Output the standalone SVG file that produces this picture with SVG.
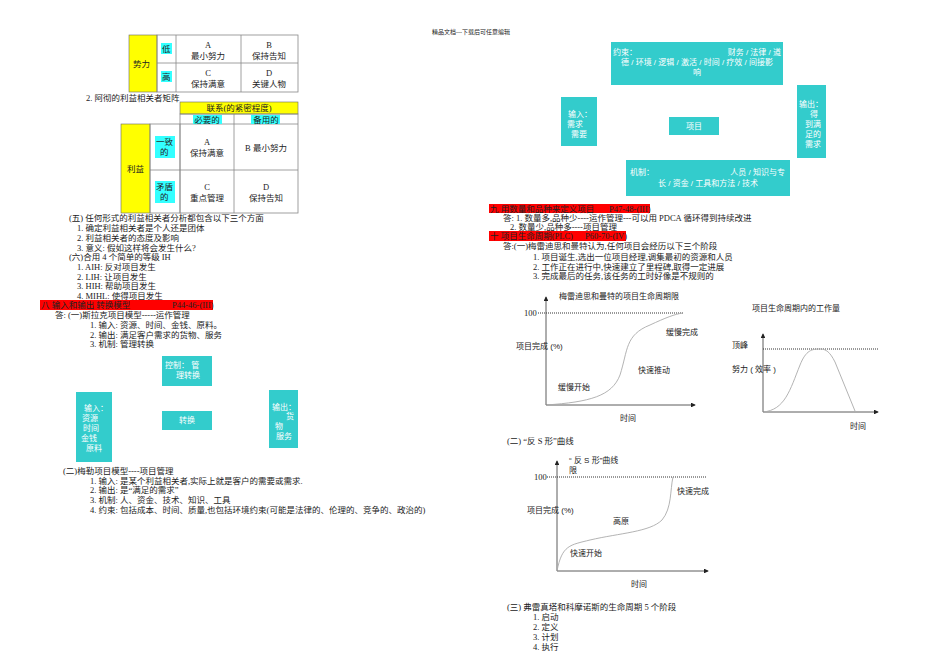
<svg xmlns="http://www.w3.org/2000/svg" width="950" height="672" viewBox="0 0 950 672">
<style>
.t{font-family:"Liberation Serif","Noto Sans CJK SC",serif;font-size:8.5px;fill:#222}
.s{font-family:"Liberation Sans","Noto Sans CJK SC",sans-serif;font-size:8px;fill:#222}
.w{font-family:"Liberation Sans","Noto Sans CJK SC",sans-serif;font-size:8px;fill:#fff}
.box{fill:#33cccc}
.g{fill:none;stroke:#888;stroke-width:0.8}
.y{fill:#ffff00;stroke:#666;stroke-width:0.6}
.c{fill:#33ffff}
.red{fill:#ff0000}
.ax{stroke:#333;stroke-width:0.8;fill:none}
.dot{stroke:#333;stroke-width:1;stroke-dasharray:1 1;fill:none}
.cv{stroke:#aaa;stroke-width:0.9;fill:none}
</style>
<defs><marker id="ar" markerWidth="6" markerHeight="6" refX="5" refY="3" orient="auto"><path d="M0,0L6,3L0,6z" fill="#222"/></marker></defs>
<rect width="950" height="672" fill="#fff"/>
<text class="t" x="432" y="34" style="font-size:6px">精品文档---下载后可任意编辑</text>

<g id="table1">
<rect class="y" x="129" y="35" width="28" height="57"/>
<text class="t" x="133" y="67">势力</text>
<rect class="g" x="157" y="35" width="141" height="57"/>
<line class="g" x1="176" y1="35" x2="176" y2="92"/><line class="g" x1="241" y1="35" x2="241" y2="92"/><line class="g" x1="157" y1="63" x2="298" y2="63"/>
<rect class="c" x="161" y="43" width="11" height="11"/><text class="t" x="162" y="52">低</text>
<rect class="c" x="161" y="71" width="11" height="11"/><text class="t" x="162" y="80">高</text>
<text class="t" x="208" y="48" text-anchor="middle">A</text><text class="t" x="208" y="59" text-anchor="middle">最小努力</text>
<text class="t" x="269" y="48" text-anchor="middle">B</text><text class="t" x="269" y="59" text-anchor="middle">保持告知</text>
<text class="t" x="208" y="76" text-anchor="middle">C</text><text class="t" x="208" y="87" text-anchor="middle">保持满意</text>
<text class="t" x="269" y="76" text-anchor="middle">D</text><text class="t" x="269" y="87" text-anchor="middle">关键人物</text>
</g>
<text class="t" x="86" y="101">2.  阿彻的利益相关者矩阵</text>
<g id="table2">
<rect class="y" x="180" y="102" width="118" height="12"/>
<text class="t" x="239" y="111" text-anchor="middle">联系(的紧密程度)</text>
<rect class="g" x="180" y="114" width="118" height="99"/>
<line class="g" x1="234" y1="114" x2="234" y2="213"/><line class="g" x1="180" y1="124" x2="298" y2="124"/><line class="g" x1="150" y1="170" x2="298" y2="170"/>
<rect class="c" x="193" y="115" width="29" height="9"/><text class="t" x="207" y="123" text-anchor="middle">必要的</text>
<rect class="c" x="251" y="115" width="29" height="9"/><text class="t" x="266" y="123" text-anchor="middle">备用的</text>
<rect class="y" x="121" y="124" width="29" height="89"/><text class="t" x="127" y="172">利益</text>
<rect class="g" x="150" y="124" width="30" height="89"/>
<rect class="c" x="155" y="136" width="20" height="22"/><text class="t" x="156" y="145">一致</text><text class="t" x="160" y="155">的</text>
<rect class="c" x="155" y="181" width="20" height="22"/><text class="t" x="156" y="190">矛盾</text><text class="t" x="160" y="200">的</text>
<text class="t" x="207" y="145" text-anchor="middle">A</text><text class="t" x="207" y="156" text-anchor="middle">保持满意</text>
<text class="t" x="266" y="151" text-anchor="middle">B   最小努力</text>
<text class="t" x="207" y="190" text-anchor="middle">C</text><text class="t" x="207" y="201" text-anchor="middle">重点管理</text>
<text class="t" x="266" y="190" text-anchor="middle">D</text><text class="t" x="266" y="201" text-anchor="middle">保持告知</text>
</g>

<g id="text-left">
<text class="t" x="69" y="221">(五) 任何形式的利益相关者分析都包含以下三个方面</text>
<text class="t" x="77" y="231">1. 确定利益相关者是个人还是团体</text>
<text class="t" x="77" y="241">2. 利益相关者的态度及影响</text>
<text class="t" x="77" y="251">3. 意义: 假如这样将会发生什么?</text>
<text class="t" x="69" y="260">(六)合用 4 个简单的等级 IH</text>
<text class="t" x="77" y="270">1. AIH: 反对项目发生</text>
<text class="t" x="77" y="280">2. LIH: 让项目发生</text>
<text class="t" x="77" y="289">3. HIH: 帮助项目发生</text>
<text class="t" x="77" y="299">4. MIHL: 使得项目发生</text>
<rect class="red" x="40" y="300" width="173" height="10"/>
<text class="t" x="41" y="308">八 输入和输出 转换模型</text><text class="t" x="172" y="308">P44-46-(III)</text>
<text class="t" x="55" y="318">答: (一)斯拉克项目模型-----运作管理</text>
<text class="t" x="90" y="328">1. 输入: 资源、时间、金钱、原料。</text>
<text class="t" x="90" y="338">2. 输出: 满足客户需求的货物、服务</text>
<text class="t" x="90" y="347">3. 机制: 管理转换</text>
</g>
<g id="slack-control"><rect class="box" x="162" y="356" width="50" height="30"/><text class="w" x="165" y="368">控制：    管</text><text class="w" x="176" y="378">理转换</text></g>
<g id="slack-transform"><rect class="box" x="162" y="411" width="50" height="19"/><text class="w" x="187" y="423" text-anchor="middle">转换</text></g>
<g id="slack-input"><rect class="box" x="76" y="392" width="36" height="70"/><text class="w" x="84" y="411">输入：</text><text class="w" x="82" y="421">资源</text><text class="w" x="83" y="431">时间</text><text class="w" x="81" y="441">金钱</text><text class="w" x="86" y="451">原料</text></g>
<g id="slack-output"><rect class="box" x="269" y="390" width="29" height="58"/><text class="w" x="272" y="410">输出：</text><text class="w" x="286" y="419">货</text><text class="w" x="275" y="429">物</text><text class="w" x="276" y="439">服务</text></g>
<g id="text-left2">
<text class="t" x="63" y="474">(二)梅勒项目模型----项目管理</text>
<text class="t" x="90" y="484">1. 输入: 是某个利益相关者,实际上就是客户的需要或需求.</text>
<text class="t" x="90" y="493">2. 输出: 是“满足的需求”</text>
<text class="t" x="90" y="503">3. 机制: 人、资金、技术、知识、工具</text>
<text class="t" x="90" y="513">4. 约束: 包括成本、时间、质量,也包括环境约束(可能是法律的、伦理的、竞争的、政治的)</text>
</g>

<g id="maylor-constraint"><rect class="box" x="611" y="42" width="172" height="43"/><text class="w" x="613" y="55">约束：</text><text class="w" x="781" y="55" text-anchor="end">财务 / 法律 / 道</text><text class="w" x="697" y="65" text-anchor="middle">德 / 环境 / 逻辑 / 激活 / 时间 / 疗效 / 间接影</text><text class="w" x="697" y="75" text-anchor="middle">响</text></g>
<g id="maylor-input"><rect class="box" x="561" y="97" width="36" height="49"/><text class="w" x="568" y="117">输入：</text><text class="w" x="567" y="127">需求</text><text class="w" x="571" y="137">需要</text></g>
<g id="maylor-project"><rect class="box" x="669" y="117" width="50" height="18"/><text class="w" x="694" y="129" text-anchor="middle">项目</text></g>
<g id="maylor-output"><rect class="box" x="797" y="85" width="29" height="73"/><text class="w" x="799" y="107">输出：</text><text class="w" x="810" y="117">得</text><text class="w" x="805" y="127">到满</text><text class="w" x="805" y="137">足的</text><text class="w" x="805" y="147">需求</text></g>
<g id="maylor-mechanism"><rect class="box" x="626" y="160" width="164" height="36"/><text class="w" x="630" y="175">机制：</text><text class="w" x="785" y="175" text-anchor="end">人员 / 知识与专</text><text class="w" x="708" y="186" text-anchor="middle">长 / 资金 / 工具和方法 / 技术</text></g>

<g id="text-right">
<rect class="red" x="489" y="204" width="161" height="9"/>
<text class="t" x="490" y="212">九 用数量和品种来定义项目</text><text class="t" x="609" y="212">P47-48-(III)</text>
<text class="t" x="503" y="221">答: 1. 数量多,品种少----运作管理---可以用 PDCA 循环得到持续改进</text>
<text class="t" x="510" y="230">2. 数量少,品种多----项目管理</text>
<rect class="red" x="489" y="231" width="137" height="10"/>
<text class="t" x="490" y="239">十 项目生命周期(PLC)</text><text class="t" x="585" y="239">P60-70-(IV)</text>
<text class="t" x="503" y="249">答:(一)梅雷迪思和曼特认为,任何项目会经历以下三个阶段</text>
<text class="t" x="533" y="260">1.    项目诞生,选出一位项目经理,调集最初的资源和人员</text>
<text class="t" x="533" y="270">2.    工作正在进行中,快速建立了里程碑,取得一定进展</text>
<text class="t" x="533" y="279">3.    完成最后的任务,该任务的工时好像是不规则的</text>
</g>

<g id="chart1">
<line class="ax" x1="546" y1="405" x2="546" y2="297" marker-end="url(#ar)"/>
<line class="ax" x1="546" y1="405" x2="695" y2="405" marker-end="url(#ar)"/>
<line class="dot" x1="538" y1="313" x2="683" y2="313"/>
<path class="cv" d="M546,405 C590,402 612,396 620,375 C628,350 625,335 650,325 C665,318 675,314 683,313"/>
<text class="s" x="559" y="299">梅雷迪思和曼特的项目生命周期限</text>
<text class="t" x="524" y="316">100</text>
<text class="s" x="516" y="349">项目完成 (%)</text>
<text class="s" x="666" y="335">缓慢完成</text>
<text class="s" x="638" y="373">快速推动</text>
<text class="s" x="558" y="390">缓慢开始</text>
<text class="s" x="620" y="421">时间</text>
</g>
<g id="chart2">
<line class="ax" x1="763" y1="412" x2="763" y2="334" marker-end="url(#ar)"/>
<line class="ax" x1="763" y1="412" x2="878" y2="412" marker-end="url(#ar)"/>
<line class="dot" x1="763" y1="349" x2="878" y2="349"/>
<path class="cv" d="M763,412 C785,410 790,390 800,365 C806,350 812,349 820,349 C826,349 830,352 835,362 L855,411"/>
<text class="s" x="752" y="311">项目生命周期内的工作量</text>
<text class="s" x="732" y="348">顶峰</text>
<text class="s" x="732" y="372">努力 ( 效率 )</text>
<text class="s" x="850" y="429">时间</text>
</g>
<text class="t" x="507" y="444">(二) “反 S 形”曲线</text>
<g id="chart3">
<line class="ax" x1="557" y1="571" x2="557" y2="461" marker-end="url(#ar)"/>
<line class="ax" x1="557" y1="571" x2="708" y2="571" marker-end="url(#ar)"/>
<line class="dot" x1="547" y1="477" x2="707" y2="477"/>
<path class="cv" d="M557,571 C562,545 570,545 590,540 C620,533 650,532 662,520 C672,508 670,490 673,477"/>
<text class="s" x="569" y="463">“ 反 S 形”曲线</text>
<text class="s" x="569" y="473">限</text>
<text class="t" x="534" y="480">100</text>
<text class="s" x="677" y="494">快速完成</text>
<text class="s" x="527" y="513">项目完成 (%)</text>
<text class="s" x="613" y="524">高原</text>
<text class="s" x="570" y="556">快速开始</text>
<text class="s" x="631" y="587">时间</text>
</g>
<g id="text-right2">
<text class="t" x="507" y="610">(三) 弗雷真塔和科摩诺斯的生命周期 5 个阶段</text>
<text class="t" x="533" y="620">1.     启动</text>
<text class="t" x="533" y="630">2.     定义</text>
<text class="t" x="533" y="640">3.     计划</text>
<text class="t" x="533" y="650">4.     执行</text>
</g>
</svg>
